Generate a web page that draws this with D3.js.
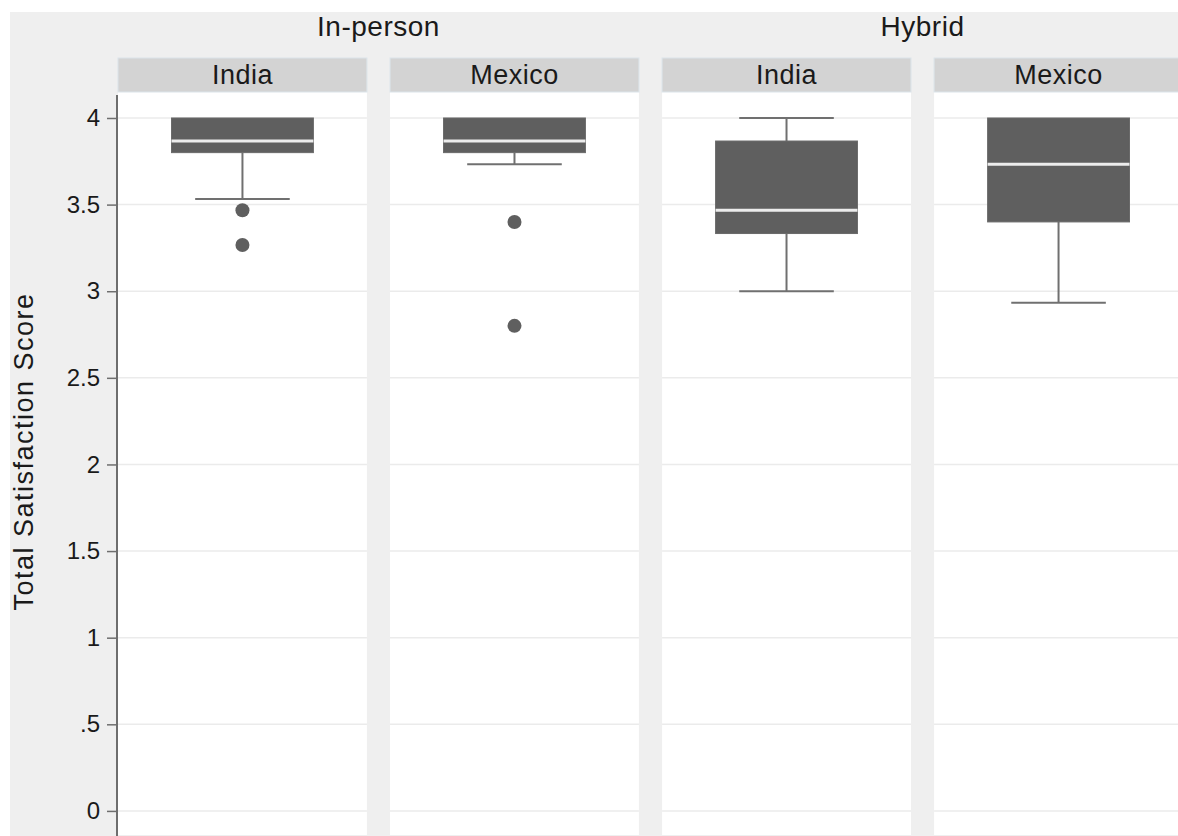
<!DOCTYPE html>
<html>
<head>
<meta charset="utf-8">
<script src="https://cdn.jsdelivr.net/npm/d3@7"></script>
<style>
  html, body { margin: 0; padding: 0; background: #fff; }
  svg { display: block; font-family: "Liberation Sans", Arial, sans-serif; }
</style>
</head>
<body>
<div id="chart"></div>
<script>
// data
const modes = ["In-person", "Hybrid"];
const groups = ["In-person", "In-person", "Hybrid", "Hybrid"];
const countries = ["India", "Mexico", "India", "Mexico"];
const q1 = [3.8, 3.8, 3.333, 3.4];
const medians = [3.867, 3.867, 3.467, 3.733];
const q3 = [4, 4, 3.867, 4];
const whiskerLow = [3.533, 3.733, 3.0, 2.933];
const whiskerHigh = [4, 4, 4, 4];
const outliers = [[3.467, 3.267], [3.4, 2.8], [], []];
const yTicks = [0, 0.5, 1, 1.5, 2, 2.5, 3, 3.5, 4];

const width = 1178, height = 836;
const svg = d3.select('#chart')
    .append('svg')
    .attr('width', width)
    .attr('height', height);

// grey plot region
svg.append('rect')
    .attr('x', 10).attr('y', 12)
    .attr('width', width - 10).attr('height', height - 12)
    .attr('fill', '#efefef');

const x = d3.scaleBand()
    .domain(d3.range(countries.length))
    .range([118, 1183])
    .paddingInner(0.085);

const y = d3.scaleLinear()
    .domain([-0.139, 4.15])
    .range([835, 92]);

const stripTop = 58;

// panels
const panel = svg.selectAll('g.panel')
    .data(countries)
    .enter()
    .append('g')
    .attr('class', 'panel')
    .attr('transform', (d, i) => `translate(${x(i)},0)`);

panel.append('rect')
    .attr('x', 0).attr('y', y.range()[1])
    .attr('width', x.bandwidth())
    .attr('height', y.range()[0] - y.range()[1])
    .attr('fill', '#fff');

panel.append('rect')
    .attr('x', 0).attr('y', stripTop)
    .attr('width', x.bandwidth())
    .attr('height', y.range()[1] - stripTop)
    .attr('fill', '#d3d3d3')
    .attr('stroke', '#dbe4ea')
    .attr('stroke-width', 1);

panel.append('text')
    .attr('x', x.bandwidth() / 2)
    .attr('y', 84)
    .attr('text-anchor', 'middle')
    .attr('font-size', 27)
    .attr('letter-spacing', 0.5)
    .attr('fill', '#1a1a1a')
    .text(d => d);

// grid lines
panel.selectAll('line.grid')
    .data(yTicks)
    .enter()
    .append('line')
    .attr('x1', 0).attr('x2', x.bandwidth())
    .attr('y1', d => y(d)).attr('y2', d => y(d))
    .attr('stroke', '#ebebeb')
    .attr('stroke-width', 1.5);

// box plots
const boxW = x.bandwidth() * 0.57;
const capW = x.bandwidth() * 0.38;
panel.each(function (d, i) {
    const g = d3.select(this);
    const cx = x.bandwidth() / 2;
    g.append('line')
        .attr('x1', cx).attr('x2', cx)
        .attr('y1', y(whiskerLow[i])).attr('y2', y(q1[i]))
        .attr('stroke', '#707070').attr('stroke-width', 2);
    g.append('line')
        .attr('x1', cx).attr('x2', cx)
        .attr('y1', y(whiskerHigh[i])).attr('y2', y(q3[i]))
        .attr('stroke', '#707070').attr('stroke-width', 2);
    [whiskerLow[i], whiskerHigh[i]].forEach(v => {
        if (v === q1[i] || v === q3[i]) return;
        g.append('line')
            .attr('x1', cx - capW / 2).attr('x2', cx + capW / 2)
            .attr('y1', y(v)).attr('y2', y(v))
            .attr('stroke', '#707070').attr('stroke-width', 2);
    });
    g.append('rect')
        .attr('x', cx - boxW / 2)
        .attr('y', y(q3[i]))
        .attr('width', boxW)
        .attr('height', y(q1[i]) - y(q3[i]))
        .attr('fill', '#5f5f5f')
        .attr('stroke', '#6a6a6a')
        .attr('stroke-width', 1);
    g.append('line')
        .attr('x1', cx - boxW / 2).attr('x2', cx + boxW / 2)
        .attr('y1', y(medians[i])).attr('y2', y(medians[i]))
        .attr('stroke', '#ececec').attr('stroke-width', 3);
    g.selectAll('circle')
        .data(outliers[i])
        .enter()
        .append('circle')
        .attr('cx', cx)
        .attr('cy', v => y(v))
        .attr('r', 7)
        .attr('fill', '#5f5f5f');
});

// mode labels above strips
modes.forEach(m => {
    const idx = groups.map((g, i) => g === m ? i : -1).filter(i => i >= 0);
    const x0 = x(idx[0]);
    const x1 = x(idx[idx.length - 1]) + x.bandwidth();
    svg.append('text')
        .attr('x', (x0 + x1) / 2)
        .attr('y', 36)
        .attr('text-anchor', 'middle')
        .attr('font-size', 28)
        .attr('letter-spacing', 0.5)
        .attr('fill', '#1a1a1a')
        .text(m);
});

// y axis
const axis = svg.append('g')
    .attr('transform', 'translate(117,0)')
    .call(d3.axisLeft(y)
        .tickValues(yTicks)
        .tickSize(10)
        .tickPadding(7)
        .tickFormat(d => d === 0 ? '0' : d3.format('.1~f')(d).replace(/^0\./, '.')));
axis.select('.domain')
    .attr('d', `M0,${y.range()[1] + 3}V${height}`)
    .attr('stroke', '#6e6e6e')
    .attr('stroke-width', 2);
axis.selectAll('.tick line').attr('stroke', '#6e6e6e').attr('stroke-width', 1.5);
axis.selectAll('.tick text')
    .attr('font-size', 24)
    .attr('fill', '#1a1a1a')
    .attr('font-family', '"Liberation Sans", Arial, sans-serif');

svg.append('text')
    .attr('transform', `translate(33,${y(2.075)}) rotate(-90)`)
    .attr('text-anchor', 'middle')
    .attr('font-size', 27)
    .attr('letter-spacing', 1.5)
    .attr('fill', '#1a1a1a')
    .text('Total Satisfaction Score');
</script>
</body>
</html>
